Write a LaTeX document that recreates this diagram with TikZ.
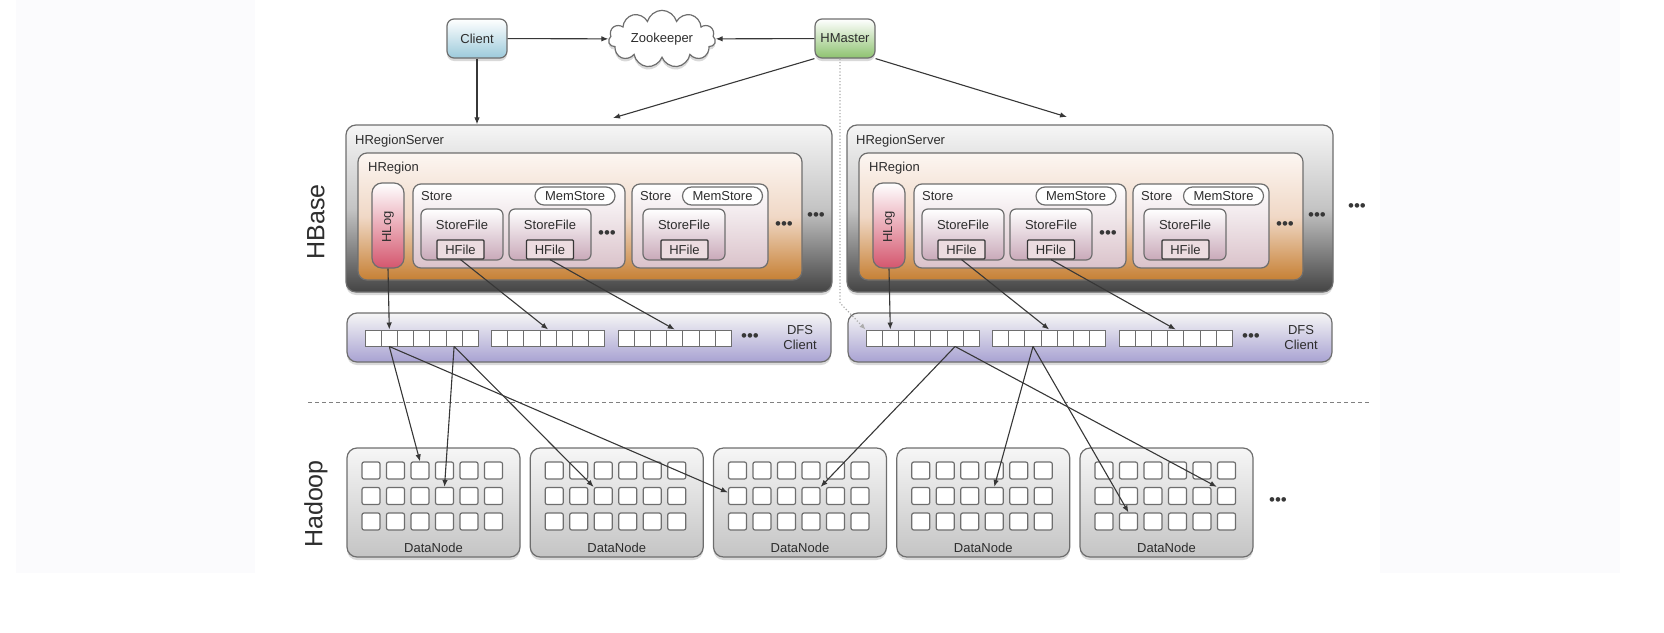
\documentclass[tikz,border=0pt]{standalone}
\usepackage{fontspec}
\setmainfont{Liberation Sans}
\usetikzlibrary{shapes.symbols,shadows,arrows.meta}

\definecolor{bord}{RGB}{110,110,110}
\definecolor{trait}{RGB}{55,55,55}
\definecolor{texte}{RGB}{45,45,45}
\definecolor{bleuclient}{RGB}{156,202,219}
\definecolor{vertmaster}{RGB}{141,194,111}
\definecolor{grisclair}{RGB}{246,246,246}
\definecolor{grismoyen}{RGB}{196,196,196}
\definecolor{grisfonce}{RGB}{68,68,68}
\definecolor{cremeregion}{RGB}{252,246,242}
\definecolor{pecheregion}{RGB}{240,216,198}
\definecolor{orangeregion}{RGB}{198,128,52}
\definecolor{rosehlog}{RGB}{212,86,110}
\definecolor{rosestore}{RGB}{218,194,202}
\definecolor{rosestorefile}{RGB}{201,169,185}
\definecolor{rosehfile}{RGB}{236,220,224}
\definecolor{lavande}{RGB}{168,162,210}
\definecolor{grisdn}{RGB}{196,196,196}
\definecolor{fond}{RGB}{251,251,253}

\begin{document}
\begin{tikzpicture}[x=1pt,y=-1pt]
% Styles
\tikzstyle{fleche}=[->,>={Latex[length=7pt,width=5.5pt]},line width=1.1pt,draw=trait]
\tikzstyle{pointille}=[->,>={Latex[length=6pt,width=5pt]},line width=1.2pt,draw=gray!65,dotted]
\tikzstyle{tirets}=[draw=gray,line width=1pt,dash pattern=on 4pt off 3pt]
\tikzstyle{etiquette}=[inner sep=0pt,text=texte,font=\fontsize{13}{15}\selectfont]
\tikzstyle{titre}=[inner sep=0pt,text=texte,font=\fontsize{25}{25}\selectfont,rotate=90]
\tikzstyle{points}=[inner sep=0pt,text=trait,font=\fontsize{17}{17}\selectfont]
\tikzstyle{cadre}=[draw=bord,line width=1.2pt,inner sep=0pt]
\tikzstyle{boite}=[cadre,drop shadow={shadow xshift=0pt,shadow yshift=-3pt,opacity=0.3}]
\tikzstyle{client}=[boite,etiquette,rounded corners=7pt,minimum width=60,minimum height=39,top color=white,bottom color=bleuclient]
\tikzstyle{hmaster}=[boite,etiquette,rounded corners=7pt,minimum width=60,minimum height=39,top color=white,bottom color=vertmaster]
\tikzstyle{nuage}=[boite,etiquette,cloud,cloud puffs=11,aspect=2.2,fill=white,minimum width=107,minimum height=48]
\tikzstyle{serveur}=[boite,rounded corners=10pt,minimum width=486,minimum height=167,top color=grisclair,bottom color=grisfonce,middle color=grismoyen]
\tikzstyle{region}=[cadre,rounded corners=9pt,minimum width=444,minimum height=127,top color=cremeregion,bottom color=orangeregion,middle color=pecheregion]
\tikzstyle{hlog}=[cadre,rounded corners=10pt,minimum width=32,minimum height=85,top color=white,bottom color=rosehlog]
\tikzstyle{store}=[cadre,rounded corners=8pt,minimum height=84,top color=white,bottom color=rosestore]
\tikzstyle{memstore}=[cadre,etiquette,rounded corners=9pt,minimum width=80,minimum height=18,fill=white]
\tikzstyle{storefile}=[cadre,rounded corners=6pt,minimum width=82,minimum height=51,top color=white,bottom color=rosestorefile]
\tikzstyle{hfile}=[cadre,etiquette,draw=trait,rounded corners=1pt,minimum width=47,minimum height=19,fill=rosehfile]
\tikzstyle{dfs}=[boite,rounded corners=10pt,minimum width=484,minimum height=49,top color=grisclair,bottom color=lavande]
\tikzstyle{case}=[draw=bord,line width=1pt,fill=white,minimum width=16.2,minimum height=16,inner sep=0pt]
\tikzstyle{datanode}=[boite,rounded corners=10pt,minimum width=173,minimum height=109,top color=grisclair,bottom color=grisdn]
\tikzstyle{casedn}=[draw=bord,line width=1.2pt,fill=white,rounded corners=2pt,minimum width=18,minimum height=17,inner sep=0pt]
% Serveur : #1 nom, #2 decalage horizontal
\def\Serveur#1#2{%
\node[serveur] (#1-serveur) at ({#2+589},208.5) {};
\node[etiquette,anchor=west] (#1-lserveur) at ({#2+355},141) {HRegionServer};
\node[region] (#1-region) at ({#2+580},216.5) {};
\node[etiquette,anchor=west] (#1-lregion) at ({#2+368},168) {HRegion};
\node[hlog] (#1-hlog) at ({#2+388},225.5) {};
\node[etiquette,rotate=90] (#1-lhlog) at ({#2+388},227) {HLog};
\node[store,minimum width=212] (#1-store1) at ({#2+519},226) {};
\node[etiquette,anchor=west] (#1-lstore1) at ({#2+421},196) {Store};
\node[memstore] (#1-mem1) at ({#2+575},196) {MemStore};
\node[storefile] (#1-sf1) at ({#2+462},234.5) {};
\node[etiquette] (#1-lsf1) at ({#2+462},225) {StoreFile};
\node[hfile] (#1-hf1) at ({#2+460.5},249.5) {HFile};
\node[storefile] (#1-sf2) at ({#2+550},234.5) {};
\node[etiquette] (#1-lsf2) at ({#2+550},225) {StoreFile};
\node[hfile] (#1-hf2) at ({#2+550},249.5) {HFile};
\node[points] (#1-pts1) at ({#2+607},235) {•••};
\node[store,minimum width=136] (#1-store2) at ({#2+700},226) {};
\node[etiquette,anchor=west] (#1-lstore2) at ({#2+640},196) {Store};
\node[memstore] (#1-mem2) at ({#2+722.5},196) {MemStore};
\node[storefile] (#1-sf3) at ({#2+684},234.5) {};
\node[etiquette] (#1-lsf3) at ({#2+684},225) {StoreFile};
\node[hfile] (#1-hf3) at ({#2+684.5},249.5) {HFile};
\node[points] (#1-pts2) at ({#2+784},226) {•••};
\node[points] (#1-pts3) at ({#2+816},217) {•••};
\node[dfs] (#1-dfs) at ({#2+589},337.5) {};
\foreach \r in {1,2,3}{\foreach \c in {1,...,7}{%
\node[case] (#1-\r-\c) at ({#2+365+126.5*(\r-1)+16.2*(\c-0.5)},338) {};}}
\node[points] (#1-pts4) at ({#2+750},338) {•••};
\node[etiquette,align=center] (#1-ldfs) at ({#2+800},338) {DFS\\Client};
\draw[fleche] (#1-hlog.south) -- (#1-1-2.north);
\draw[fleche] (#1-hf1.south) -- (#1-2-4.north);
\draw[fleche] (#1-hf2.south) -- (#1-3-4.north);
}
% DataNode : #1 nom, #2 bord gauche
\def\DataNode#1#2{%
\node[datanode] (#1) at ({#2+86.5},502.5) {};
\foreach \r in {1,2,3}{\foreach \c in {1,...,6}{%
\node[casedn] (#1-\r-\c) at ({#2+24+24.5*(\c-1)},{470.5+25.5*(\r-1)}) {};}}
\node[etiquette] (#1-label) at ({#2+86.5},548) {DataNode};
}
% Fond
\useasboundingbox (0,0) rectangle (1664,632);
\fill[fond] (16,0) rectangle (255,573);
\fill[fond] (1380,0) rectangle (1620,573);
% Noeuds
\node[client] (client) at (477,38.5) {Client};
\node[nuage] (zookeeper) at (662,39) {Zookeeper};
\node[hmaster] (hmaster) at (845,38.5) {HMaster};
\coordinate (fleA) at (613,118);
\coordinate (fleB) at (1067,117);
\coordinate (coude) at (840,303);
\node[titre] (hbase) at (316,222) {HBase};
\node[titre] (hadoop) at (316,504) {Hadoop};
\Serveur{A}{0}
\Serveur{B}{501}
\node[points] (pts5) at (1357,208) {•••};
\draw[tirets] (308,402) -- (1369,402);
\DataNode{dn1}{347}
\DataNode{dn2}{530.25}
\DataNode{dn3}{713.5}
\DataNode{dn4}{896.75}
\DataNode{dn5}{1080}
\node[points] (pts6) at (1278,502) {•••};
% Arcs
\draw[fleche] (client) -- (zookeeper);
\draw[fleche] (hmaster) -- (zookeeper);
\draw[fleche] (client) -- (client |- A-serveur.north);
\draw[fleche] (hmaster.south west) -- (fleA);
\draw[fleche] (hmaster.south east) -- (fleB);
\draw[pointille] (hmaster.south -| coude) -- (coude) -- (B-1-1.north west);
\draw[fleche] (A-1-2.south) -- (dn1-1-3.north);
\draw[fleche] (A-1-2.south) -- (dn3-2-1.160);
\draw[fleche] (A-1-6.south) -- (dn1-2-4.north);
\draw[fleche] (A-1-6.south) -- (dn2-2-3.north west);
\draw[fleche] (B-1-6.south) -- (dn3-2-4.north east);
\draw[fleche] (B-1-6.south) -- (dn5-2-6.north west);
\draw[fleche] (B-2-3.south) -- (dn4-2-4.north);
\draw[fleche] (B-2-3.south) -- (dn5-3-2.north);
\end{tikzpicture}
\end{document}
